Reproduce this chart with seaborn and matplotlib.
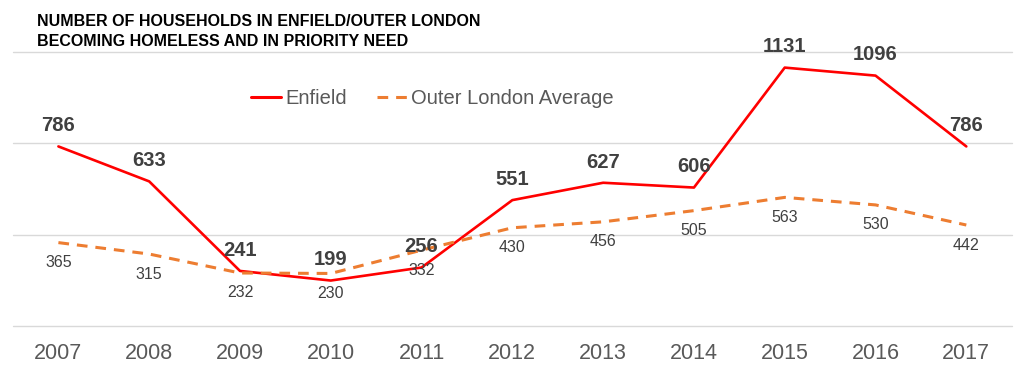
import pandas as pd
import matplotlib.pyplot as plt
import seaborn as sns

years = ["2007", "2008", "2009", "2010", "2011", "2012", "2013", "2014", "2015", "2016", "2017"]
enfield = [786, 633, 241, 199, 256, 551, 627, 606, 1131, 1096, 786]
outer_london = [365, 315, 232, 230, 332, 430, 456, 505, 563, 530, 442]

title = "NUMBER OF HOUSEHOLDS IN ENFIELD/OUTER LONDON\nBECOMING HOMELESS AND IN PRIORITY NEED"

sns.set_style("white")
plt.rcParams["font.family"] = ["Liberation Sans", "DejaVu Sans"]

df = pd.DataFrame({"year": years, "Enfield": enfield, "Outer London Average": outer_london})
long_df = df.melt(id_vars="year", var_name="series", value_name="households")

fig, ax = plt.subplots(figsize=(10.24, 3.73), dpi=100)
fig.subplots_adjust(left=0.0127, right=0.988, bottom=0.126, top=0.861)

sns.lineplot(data=long_df, x="year", y="households", hue="series", style="series",
             palette={"Enfield": "#FF0000", "Outer London Average": "#ED7D31"},
             dashes={"Enfield": "", "Outer London Average": (3.5, 2.6)},
             ax=ax, legend=True)
for line in ax.lines:
    line.set_linewidth(2.2)
ax.lines[0].set_linewidth(1.9)

# data labels: Enfield above in bold, Outer London below
for i, v in enumerate(enfield):
    ax.annotate(str(v), (i, v), xytext=(0, 8), textcoords="offset points",
                ha="center", va="bottom", fontsize=14.5, fontweight="bold", color="#404040")
for i, v in enumerate(outer_london):
    ax.annotate(str(v), (i, v), xytext=(0, -9), textcoords="offset points",
                ha="center", va="top", fontsize=11.5, color="#404040")

ax.set_ylim(0, 1200)
ax.set_yticks([0, 400, 800, 1200])
ax.set_yticklabels([])
ax.set_xlim(-0.5, len(years) - 0.5)
ax.grid(axis="y", color="#d9d9d9", linewidth=1)
for gl in ax.get_ygridlines():
    gl.set_clip_on(False)
ax.set_axisbelow(True)
ax.tick_params(axis="y", length=0)
ax.tick_params(axis="x", length=0, pad=12, labelsize=15.5, labelcolor="#595959")
ax.set_xlabel("")
ax.set_ylabel("")
sns.despine(ax=ax, left=True, bottom=True)

handles, labels = ax.get_legend_handles_labels()
leg = ax.legend(handles, labels, loc="center", bbox_to_anchor=(0.42, 0.83), ncol=2,
                frameon=False, fontsize=14.5, handlelength=1.5, handletextpad=0.2,
                columnspacing=1.5)
for t in leg.get_texts():
    t.set_color("#595959")

fig.text(0.036, 0.963, title, ha="left", va="top", fontsize=11.5,
         fontweight="bold", color="#000000", linespacing=1.45)

fig.savefig("out.png", dpi=100)
